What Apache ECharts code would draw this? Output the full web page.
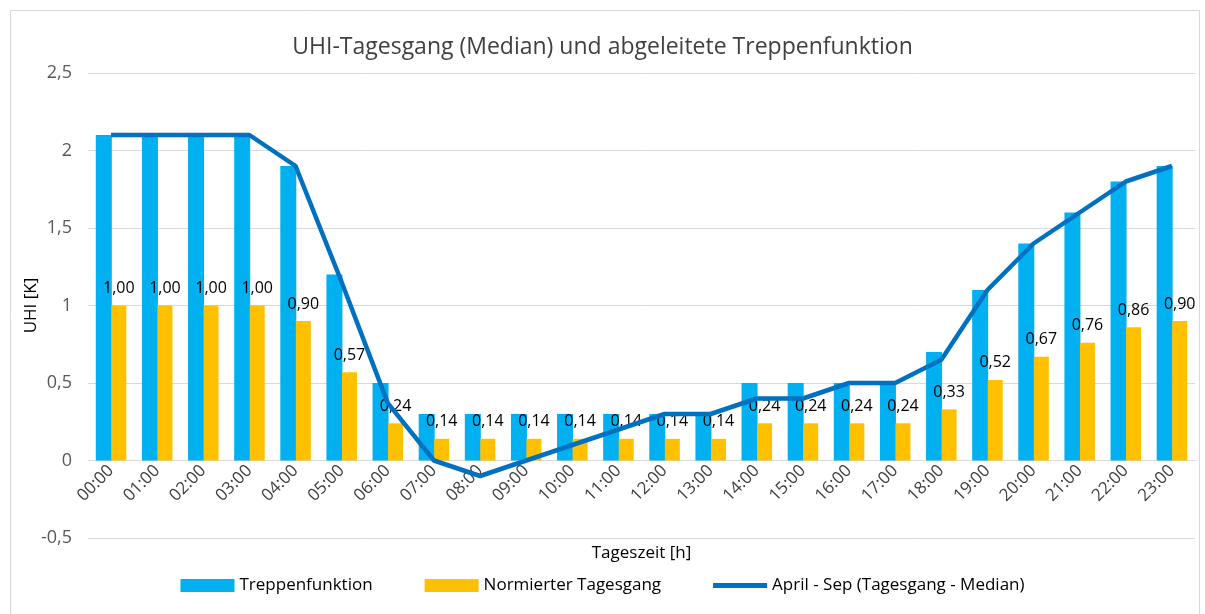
<!DOCTYPE html>
<html>
<head>
<meta charset="utf-8">
<script src="https://cdn.jsdelivr.net/npm/echarts@6/dist/echarts.min.js"></script>
<style>
  html, body { margin: 0; padding: 0; background: #fff; }
  #chart { width: 1205px; height: 614px; }
</style>
</head>
<body>
<div id="chart"></div>
<script>
var hours = ['00:00','01:00','02:00','03:00','04:00','05:00','06:00','07:00','08:00','09:00','10:00','11:00',
             '12:00','13:00','14:00','15:00','16:00','17:00','18:00','19:00','20:00','21:00','22:00','23:00'];
var treppe = [2.1,2.1,2.1,2.1,1.9,1.2,0.5,0.3,0.3,0.3,0.3,0.3,0.3,0.3,0.5,0.5,0.5,0.5,0.7,1.1,1.4,1.6,1.8,1.9];
var normiert = [1.00,1.00,1.00,1.00,0.90,0.57,0.24,0.14,0.14,0.14,0.14,0.14,0.14,0.14,0.24,0.24,0.24,0.24,0.33,0.52,0.67,0.76,0.86,0.90];
var median = [2.1,2.1,2.1,2.1,1.9,1.15,0.37,0.0,-0.1,0.0,0.1,0.2,0.3,0.3,0.4,0.4,0.5,0.5,0.65,1.1,1.4,1.6,1.8,1.9];

function komma(v) { return String(v).replace('.', ','); }

var chart = echarts.init(document.getElementById('chart'), null, { renderer: 'canvas' });
chart.setOption({
    animation: false,
    textStyle: { fontFamily: 'Open Sans, Noto Sans, sans-serif' },
    graphic: [{
        type: 'rect', left: 8, top: 8,
        shape: { width: 1189, height: 604 },
        style: { fill: 'none', stroke: '#d9d9d9', lineWidth: 1 }
    }],
    title: {
        text: 'UHI-Tagesgang (Median) und abgeleitete Treppenfunktion',
        left: 'center', top: 31,
        textStyle: { fontSize: 23, fontWeight: 'normal', color: '#404040' }
    },
    legend: {
        bottom: 15, left: 'center', itemGap: 52, itemWidth: 54, itemHeight: 13,
        textStyle: { fontSize: 17, color: '#000' },
        data: [
            { name: 'Treppenfunktion', icon: 'rect' },
            { name: 'Normierter Tagesgang', icon: 'rect' },
            { name: 'April - Sep (Tagesgang - Median)', icon: 'path://M0,0h54v5h-54z' }
        ]
    },
    grid: { left: 88, right: 10, top: 73, bottom: 76, containLabel: false, outerBoundsMode: 'none' },
    xAxis: {
        type: 'category', data: hours, offset: -78,
        name: 'Tageszeit [h]', nameLocation: 'middle', nameGap: 85, nameMoveOverlap: false,
        nameTextStyle: { fontSize: 17, color: '#000' },
        axisLine: { onZero: false, lineStyle: { color: '#d9d9d9', width: 1 } },
        axisTick: { show: false },
        axisLabel: { rotate: 45, fontSize: 17, color: '#404040', margin: 8, interval: 0 }
    },
    yAxis: {
        type: 'value', min: -0.5, max: 2.5, interval: 0.5,
        name: 'UHI [K]', nameLocation: 'middle', nameGap: 48, nameRotate: 90, nameMoveOverlap: false,
        nameTextStyle: { fontSize: 17, color: '#000' },
        axisLine: { show: false }, axisTick: { show: false },
        axisLabel: { fontSize: 18, color: '#595959', margin: 16, formatter: komma },
        splitLine: { lineStyle: { color: '#d9d9d9', width: 1 } }
    },
    series: [
        {
            name: 'Treppenfunktion', type: 'bar', data: treppe,
            barWidth: 16, barGap: '-3%',
            itemStyle: { color: '#00B0F0' }
        },
        {
            name: 'Normierter Tagesgang', type: 'bar', data: normiert,
            barWidth: 15,
            itemStyle: { color: '#FFC000' },
            label: {
                show: true, position: 'top', distance: 9, fontSize: 16, color: '#000',
                formatter: function (p) { return p.value.toFixed(2).replace('.', ','); }
            }
        },
        {
            name: 'April - Sep (Tagesgang - Median)', type: 'line', data: median,
            symbol: 'none', z: 5,
            lineStyle: { color: '#0070C0', width: 4.5 },
            itemStyle: { color: '#0070C0' }
        }
    ]
});
</script>
</body>
</html>
